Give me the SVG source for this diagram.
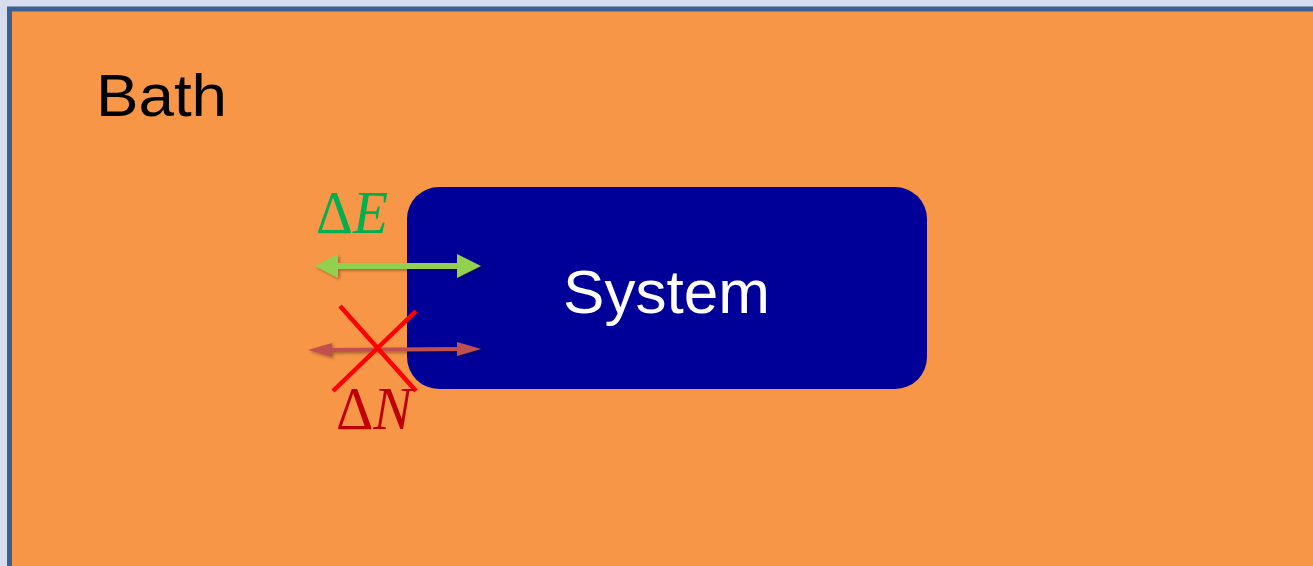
<svg xmlns="http://www.w3.org/2000/svg" width="1313" height="566" viewBox="0 0 1313 566">
  <style>
    .label { font-family: "Liberation Sans", Arial, sans-serif; }
    .math { font-family: "Liberation Serif", "Times New Roman", serif; font-size: 62px; }
    .var { font-style: italic; }
  </style>
  <defs>
    <filter id="shadow" filterUnits="userSpaceOnUse" x="250" y="230" width="280" height="160">
      <feDropShadow dx="1.5" dy="1.5" stdDeviation="1.5" flood-color="#000" flood-opacity="0.35"/>
    </filter>
  </defs>

  <!-- page background -->
  <rect x="0" y="0" width="1313" height="566" fill="#d7ddef"/>

  <!-- bath region -->
  <g id="bath">
    <rect x="9.5" y="9" width="1320" height="570" fill="#f79646" stroke="#3a6191" stroke-width="5"/>
    <text class="label" x="96" y="116" font-size="60" textLength="131" lengthAdjust="spacingAndGlyphs" fill="#000">Bath</text>
  </g>

  <!-- system box -->
  <g id="system">
    <rect x="407" y="187" width="520" height="202" rx="32" ry="32" fill="#000099"/>
    <text class="label" x="666.5" y="313" font-size="62" text-anchor="middle" textLength="207" lengthAdjust="spacingAndGlyphs" fill="#fff">System</text>
  </g>

  <!-- exchange arrows (double-headed) -->
  <g id="connectors" filter="url(#shadow)">
    <g id="energy-arrow" fill="#92d050">
      <rect x="336" y="263" width="122" height="6"/>
      <path d="M315,266 L338,254 L338,278 Z"/>
      <path d="M481,266 L457,254 L457,278 Z"/>
    </g>
    <g id="particle-arrow" fill="#c0504d">
      <path d="M328,348 L460,347 L460,351 L328,352 Z"/>
      <path d="M308,350 L332,343 L332,357 Z"/>
      <path d="M481,349 L457,342 L457,356 Z"/>
    </g>
  </g>

  <!-- crossed-out particle exchange -->
  <g id="cross" stroke="#ff0000" stroke-width="4.5" stroke-linecap="butt">
    <line x1="340" y1="306" x2="416" y2="391"/>
    <line x1="416" y1="311" x2="333" y2="391"/>
  </g>

  <!-- labels -->
  <g id="deltaE">
    <text class="math" x="316" y="233" fill="#00b050" textLength="72" lengthAdjust="spacingAndGlyphs">Δ<tspan class="var">E</tspan></text>
  </g>
  <g id="deltaN">
    <text class="math" x="336" y="429" fill="#c00000" textLength="76" lengthAdjust="spacingAndGlyphs">Δ<tspan class="var">N</tspan></text>
  </g>
</svg>
